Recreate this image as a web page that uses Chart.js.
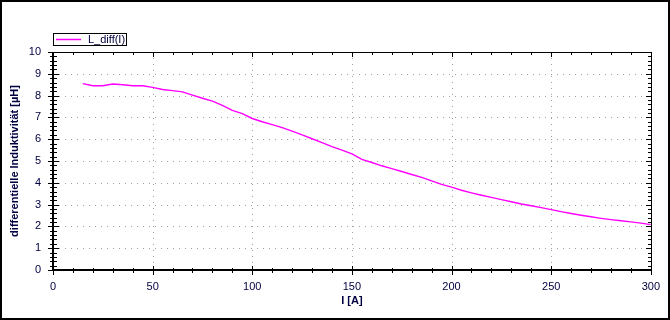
<!DOCTYPE html>
<html>
<head>
<meta charset="utf-8">
<script src="https://cdn.jsdelivr.net/npm/chart.js@4/dist/chart.umd.min.js"></script>
<style>
html,body{margin:0;padding:0;background:#fff;}
canvas{display:block;}
</style>
</head>
<body>
<canvas id="c" width="670" height="320"></canvas>
<script>
const currents = [15,20,25,30,35,40,45,50,55,60,65,70,75,80,85,90,95,100,105,110,115,120,125,130,135,140,145,150,155,160,165,170,175,180,185,190,195,200,205,210,215,220,225,230,235,240,245,250,255,260,265,270,275,280,285,290,295,300];
const inductance = [8.55,8.45,8.45,8.53,8.50,8.45,8.45,8.38,8.28,8.23,8.17,8.02,7.88,7.75,7.55,7.32,7.17,6.95,6.80,6.67,6.53,6.37,6.20,6.02,5.84,5.66,5.50,5.33,5.07,4.93,4.78,4.65,4.52,4.38,4.25,4.09,3.93,3.80,3.66,3.54,3.43,3.33,3.23,3.13,3.03,2.95,2.86,2.77,2.68,2.59,2.51,2.44,2.37,2.31,2.26,2.21,2.15,2.08];
const xTicks = [0,50,100,150,200,250,300];
const yTicks = [0,1,2,3,4,5,6,7,8,9,10];
const seriesLabel = 'L_diff(I)';
const xTitle = 'I [A]';
const yTitle = 'differentielle Induktivität [µH]';

const FONT = '"Liberation Sans", Arial, sans-serif';
const LABEL_COLOR = '#000040';
const LINE_COLOR = '#ff00ff';

const framePlugin = {
  id: 'frame',
  beforeDatasetsDraw(chart) {
    const {ctx, chartArea: a, scales: {x, y}} = chart;
    const L = Math.round(a.left), R = Math.round(a.right), T = Math.round(a.top), B = Math.round(a.bottom);
    ctx.save();
    ctx.strokeStyle = '#a0a0a0';
    ctx.lineWidth = 1;
    ctx.setLineDash([1, 5]);
    xTicks.forEach(v => {
      if (v <= x.min || v >= x.max) return;
      const px = Math.round(x.getPixelForValue(v)) + 0.5;
      ctx.beginPath(); ctx.moveTo(px, T); ctx.lineTo(px, B); ctx.stroke();
    });
    yTicks.forEach(v => {
      if (v <= y.min || v >= y.max) return;
      const py = Math.round(y.getPixelForValue(v)) + 0.5;
      ctx.beginPath(); ctx.moveTo(L, py); ctx.lineTo(R, py); ctx.stroke();
    });
    ctx.setLineDash([]);
    ctx.strokeStyle = '#000';
    ctx.lineWidth = 1;
    ctx.beginPath();
    ctx.moveTo(L, T + 0.5); ctx.lineTo(R + 0.5, T + 0.5);
    ctx.moveTo(R + 0.5, T); ctx.lineTo(R + 0.5, B);
    ctx.stroke();
    for (let v = x.min; v <= x.max + 1e-9; v += 10) {
      const px = Math.round(x.getPixelForValue(v)) + 0.5;
      const major = Math.abs(v % 50) < 1e-9;
      ctx.beginPath();
      if (major) { ctx.moveTo(px, B - 4); ctx.lineTo(px, B + 5); ctx.moveTo(px, T); ctx.lineTo(px, T + 5); }
      else { ctx.moveTo(px, B - 2); ctx.lineTo(px, B + 3); ctx.moveTo(px, T); ctx.lineTo(px, T + 3); }
      ctx.stroke();
    }
    for (let i = 0; i <= 50; i++) {
      const v = y.min + i * 0.2;
      const py = Math.round(y.getPixelForValue(v)) + 0.5;
      const major = i % 5 === 0;
      ctx.beginPath();
      if (major) { ctx.moveTo(L - 5, py); ctx.lineTo(L + 6, py); ctx.moveTo(R - 5, py); ctx.lineTo(R, py); }
      else { ctx.moveTo(L - 3, py); ctx.lineTo(L + 4, py); ctx.moveTo(R - 3, py); ctx.lineTo(R, py); }
      ctx.stroke();
    }
    ctx.lineWidth = 2;
    ctx.beginPath();
    ctx.moveTo(L, T); ctx.lineTo(L, B + 1);
    ctx.moveTo(L - 1, B); ctx.lineTo(R + 1, B);
    ctx.stroke();
    ctx.restore();
  },
  afterDraw(chart) {
    const {ctx} = chart;
    ctx.save();
    ctx.strokeStyle = '#000';
    ctx.lineWidth = 2;
    ctx.strokeRect(1, 1, chart.width - 2, chart.height - 2);
    ctx.lineWidth = 1;
    ctx.strokeStyle = '#000';
    ctx.strokeRect(53.5, 33.5, 73, 12);
    ctx.strokeStyle = LINE_COLOR;
    ctx.lineWidth = 1.5;
    ctx.beginPath(); ctx.moveTo(56, 39.5); ctx.lineTo(81, 39.5); ctx.stroke();
    ctx.fillStyle = LABEL_COLOR;
    ctx.font = '11px ' + FONT;
    ctx.textBaseline = 'middle';
    ctx.textAlign = 'left';
    ctx.fillText(seriesLabel, 88, 40);
    ctx.restore();
  }
};

new Chart(document.getElementById('c'), {
  type: 'line',
  data: {
    datasets: [{
      label: seriesLabel,
      data: currents.map((c, i) => ({x: c, y: inductance[i]})),
      borderColor: LINE_COLOR,
      borderWidth: 1.4,
      pointRadius: 0,
      tension: 0,
      fill: false
    }]
  },
  options: {
    responsive: false,
    animation: false,
    devicePixelRatio: 1,
    layout: {padding: {left: 0, right: 19, top: 52, bottom: 0}},
    plugins: {legend: {display: false}, tooltip: {enabled: false}},
    scales: {
      x: {
        type: 'linear', min: 0, max: 300,
        afterBuildTicks(s) { s.ticks = xTicks.map(v => ({value: v})); },
        afterFit(s) { s.height = 50; },
        grid: {display: false, drawTicks: false},
        border: {display: false},
        ticks: {padding: 10, color: LABEL_COLOR, font: {family: FONT, size: 11}, maxRotation: 0, autoSkip: false},
        title: {display: true, text: xTitle, color: LABEL_COLOR, font: {family: FONT, size: 11, weight: 'bold'}, padding: {top: 0, bottom: 12}}
      },
      y: {
        type: 'linear', min: 0, max: 10,
        afterBuildTicks(s) { s.ticks = yTicks.map(v => ({value: v})); },
        afterFit(s) { s.width = 53; },
        grid: {display: false, drawTicks: false},
        border: {display: false},
        ticks: {padding: 12, color: LABEL_COLOR, font: {family: FONT, size: 11}, autoSkip: false},
        title: {display: true, text: yTitle, color: LABEL_COLOR, font: {family: FONT, size: 11, weight: 'bold'}, padding: {top: 8, bottom: 0}}
      }
    }
  },
  plugins: [framePlugin]
});
</script>
</body>
</html>
